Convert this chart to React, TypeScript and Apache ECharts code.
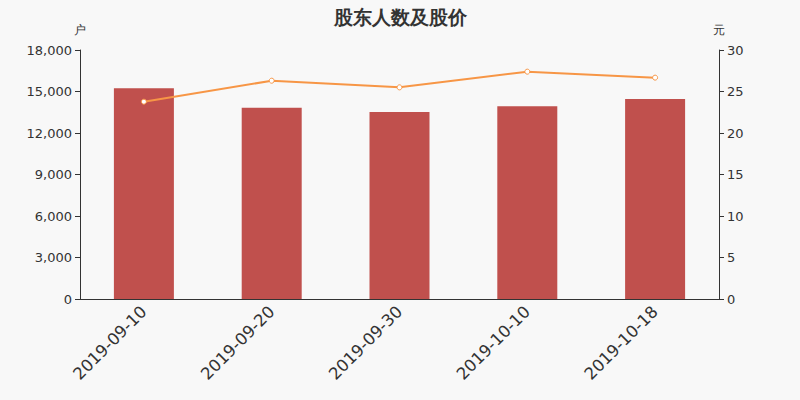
import { useEffect, useRef } from 'react';
import * as echarts from 'echarts';

const dates = ['2019-09-10', '2019-09-20', '2019-09-30', '2019-10-10', '2019-10-18'];
const holders = [15230, 13830, 13520, 13930, 14460];
const prices = [23.77, 26.3, 25.5, 27.39, 26.67];

const App = () => {
  const el = useRef<HTMLDivElement>(null);

  useEffect(() => {
    if (!el.current) return;
    document.body.style.margin = '0';
    const chart = echarts.init(el.current, undefined, { renderer: 'svg' });
    chart.setOption({
      animation: false,
      backgroundColor: '#f8f8f8',
      textStyle: { fontFamily: 'DejaVu Sans' },
      title: {
        text: '股东人数及股价',
        left: 'center',
        top: 2,
        textStyle: { fontSize: 19, fontWeight: 'bold', color: '#333' },
      },
      grid: { left: 80, right: 81, top: 50, bottom: 101 },
      xAxis: {
        type: 'category',
        data: dates,
        axisLine: { lineStyle: { color: '#333' } },
        axisTick: { lineStyle: { color: '#333' } },
        axisLabel: { rotate: 45, fontSize: 16.5, color: '#333', margin: 10 },
      },
      yAxis: [
        {
          type: 'value',
          name: '户',
          min: 0,
          max: 18000,
          interval: 3000,
          nameGap: 14,
          nameTextStyle: { color: '#333', fontSize: 12 },
          axisLine: { show: true, lineStyle: { color: '#333' } },
          axisTick: { show: true },
          splitLine: { show: false },
          axisLabel: { color: '#333', fontSize: 13 },
        },
        {
          type: 'value',
          name: '元',
          min: 0,
          max: 30,
          interval: 5,
          nameGap: 14,
          nameTextStyle: { color: '#333', fontSize: 12 },
          axisLine: { show: true, lineStyle: { color: '#333' } },
          axisTick: { show: true },
          splitLine: { show: false },
          axisLabel: { color: '#333', fontSize: 13 },
        },
      ],
      series: [
        {
          type: 'bar',
          data: holders,
          barWidth: 60,
          itemStyle: { color: '#c0504d' },
        },
        {
          type: 'line',
          yAxisIndex: 1,
          data: prices,
          symbol: 'circle',
          symbolSize: 5,
          lineStyle: { color: '#f79646', width: 2 },
          itemStyle: { color: '#fff', borderColor: '#f79646', borderWidth: 1 },
        },
      ],
    });
    return () => chart.dispose();
  }, []);

  return <div ref={el} style={{ width: 800, height: 400 }} />;
};

export default App;
